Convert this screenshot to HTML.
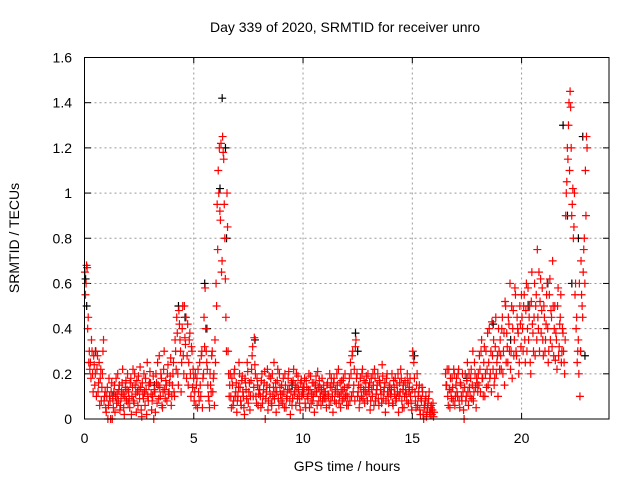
<!DOCTYPE html>
<html><head><meta charset="utf-8"><style>
body{margin:0;background:#fff}
svg{display:block;font-family:"Liberation Sans",sans-serif}
</style></head><body>
<svg id="chart" width="640" height="480">
<text x="345" y="32" text-anchor="middle" font-size="14">Day 339 of 2020, SRMTID for receiver unro</text>
<text x="347" y="471" text-anchor="middle" font-size="14">GPS time / hours</text>
<text transform="translate(19,238) rotate(-90)" text-anchor="middle" font-size="14">SRMTID / TECUs</text>
<g id="grid"></g><g id="ticks"></g><g id="black"></g><g id="red"></g>
<rect x="84.5" y="57.5" width="524.5" height="361.5" fill="none" stroke="#000"/>
</svg>
<script>
const xTicks=[0,5,10,15,20];
const yTicks=[0,0.2,0.4,0.6,0.8,1,1.2,1.4,1.6];
const yTickLabels=["0","0.2","0.4","0.6","0.8","1","1.2","1.4","1.6"];
const hourStarts=[0,1,2,3,4,5,6,7,8,9,10,11,12,13,14,15,16,17,18,19,20,21,22];
const redHourly=[
[.65,.6,.67,.45,.3,.25,.35,.2,.28,.15,.3,.22,.12,.25,.18,.08,.2,.35,.1,.05],
[.1,0,.18,.08,.12,0,.05,.15,.1,.07,.2,.13,.04,.09,.16,.11,.02,.14,.08,.2],
[.12,.05,.18,.1,.22,.07,.15,.03,.12,.19,.09,.14,.01,.11,.2,.06,.13,.25,.08,.16],
[.16,.04,.1,0,.12,.2,.07,.15,.28,.1,.18,.05,.22,.13,.17,.08,.24,.12,.19,.06],
[.15,.25,.1,.3,.45,.2,.48,.35,.12,.4,.28,.5,.33,.18,.42,.25,.38,.1,.3,.22],
[.08,.2,.15,.05,.12,.25,.1,.3,.18,.45,.58,.3,.22,.1,.05,.15,.28,.12,.2,.35],
[.6,.95,1.1,1.2,.88,.65,1.25,1.15,.8,.45,1.0,.3,.1,.2,.05,.15,.08,.22,.12,.03],
[.1,.25,.14,.06,.19,.1,.02,.16,.09,.21,.12,.04,.17,.28,.1,.36,.2,.07,.15,.11],
[.13,.05,.2,.1,.16,0,.12,.22,.08,.14,.18,.06,.1,.25,.12,.03,.17,.09,.2,.11],
[.15,.07,.12,.2,.05,.1,.18,.13,.02,.16,.09,.22,.12,.06,.14,.19,.1,.04,.17,.12],
[.11,.18,.05,.14,.09,.2,.13,.07,.16,.1,.03,.15,.12,.21,.08,.14,.06,.18,.11,.09],
[.12,.05,.16,.1,.2,.08,.14,.03,.18,.12,.07,.15,.22,.1,.05,.17,.13,.09,.2,.11],
[.14,.06,.18,.25,.1,.3,.15,.08,.35,.2,.12,.05,.18,.1,.22,.13,.07,.16,.11,.2],
[.12,.04,.18,.1,.15,.22,.08,.13,.2,.06,.16,.11,.24,.09,.14,.03,.18,.12,.07,.15],
[.1,.2,.06,.14,.18,.09,.12,.03,.16,.22,.08,.13,.05,.17,.11,.2,.07,.14,.1,.04],
[.3,.25,.12,.05,.2,.1,.15,.02,.08,.12,0,.05,.1,.03,.07,.12,.02,.06,.04,.01],
[null,null,null,null,null,null,null,null,null,null,.2,.15,.1,.22,.05,.12,.18,.08,.2,.1],
[.18,.1,.22,.05,.15,.08,.12,0,.2,.1,.25,.06,.14,.18,.09,.3,.12,.2,.05,.16],
[.2,.28,.12,.35,.18,.25,.1,.3,.22,.15,.4,.2,.12,.28,.35,.18,.45,.25,.1,.3],
[.35,.22,.45,.3,.15,.5,.38,.25,.42,.6,.3,.18,.48,.35,.55,.28,.4,.2,.5,.32],
[.45,.3,.55,.25,.6,.4,.35,.5,.2,.65,.38,.45,.28,.55,.75,.4,.3,.62,.48,.35],
[.5,.3,.42,.6,.25,.55,.35,.45,.7,.28,.5,.38,.22,.58,.32,.45,.25,.4,.3,.2],
[.9,1.05,1.15,1.4,1.45,1.2,.95,.8,1.0,.6,.45,.3,.2,.1,.7,.5,.65,.8,1.1,1.25]
];
const redHourly2=[
[.55,.68,.4,.25,.22,.18,.3,.12,.24,.2,.1,.28,.16,.06,.22,.14,.3,.08,.12,.03],
[.14,.06,.1,0,.16,.09,.12,.03,.18,.11,.08,.15,.06,.12,.22,.05,.1,.17,.13,.07],
[.09,.16,.02,.14,.08,.2,.11,.17,.06,.13,.23,.04,.16,.09,.12,.18,.02,.1,.15,.21],
[.11,.08,.19,.13,.03,.16,.25,.09,.14,.2,.06,.12,.3,.09,.15,.2,.11,.16,.27,.1],
[.2,.12,.35,.22,.38,.15,.42,.3,.25,.5,.2,.36,.45,.28,.15,.35,.2,.32,.14,.18],
[.12,.06,.18,.22,.08,.15,.28,.05,.2,.32,.4,.25,.15,.08,.2,.12,.3,.18,.06,.25],
[.5,.75,1.0,.92,1.22,.7,1.18,.95,.62,.3,.85,.2,.15,.1,.18,.06,.2,.1,.16,.08],
[.14,.2,.08,.17,.12,.05,.18,.13,.25,.07,.16,.1,.22,.32,.14,.24,.1,.18,.06,.13],
[.1,.17,.07,.13,.21,.09,.15,.04,.19,.11,.07,.2,.14,.09,.16,.12,.22,.06,.14,.08],
[.11,.18,.05,.15,.09,.13,.21,.08,.12,.06,.17,.11,.15,.2,.09,.13,.07,.16,.1,.14],
[.14,.07,.17,.1,.13,.05,.19,.11,.08,.16,.12,.19,.06,.14,.17,.1,.13,.08,.15,.12],
[.09,.15,.11,.06,.14,.18,.1,.16,.08,.13,.2,.11,.07,.16,.12,.08,.18,.14,.1,.06],
[.1,.15,.08,.2,.28,.12,.22,.32,.18,.1,.15,.08,.14,.2,.09,.17,.12,.19,.08,.14],
[.16,.08,.13,.2,.06,.18,.11,.15,.09,.17,.13,.07,.19,.12,.16,.08,.2,.1,.14,.11],
[.13,.07,.17,.11,.08,.15,.2,.1,.12,.18,.05,.15,.1,.13,.08,.16,.12,.18,.07,.13],
[.28,.18,.08,.15,.06,.12,.04,.09,.14,.02,.06,.08,.01,.05,.09,.03,.05,.02,.07,.03],
[null,null,null,null,null,null,null,null,null,null,.15,.22,.06,.13,.18,.09,.14,.22,.06,.15],
[.12,.2,.08,.16,.1,.2,.04,.14,.08,.17,.12,.2,.1,.22,.15,.08,.25,.14,.18,.12],
[.15,.22,.3,.18,.1,.32,.2,.14,.38,.25,.18,.3,.43,.22,.15,.32,.2,.28,.4,.22],
[.28,.4,.2,.38,.52,.25,.32,.45,.3,.22,.5,.4,.28,.58,.3,.45,.38,.25,.42,.55],
[.4,.5,.35,.48,.3,.58,.45,.25,.52,.42,.3,.6,.5,.35,.45,.65,.52,.38,.58,.28],
[.45,.35,.55,.4,.3,.62,.48,.32,.5,.4,.26,.35,.5,.28,.42,.55,.3,.38,.25,.35],
[1.0,1.2,1.3,1.1,1.38,.9,1.02,.85,.55,.4,.25,.35,.6,.3,.55,.45,.75,.6,.9,1.2]
];
const blackTimes=[0.05,0.1,0.5,1.3,3.2,4.3,4.6,5.5,5.6,6.2,6.3,6.45,6.5,7.8,9.5,12.4,12.5,15.1,17.5,18.7,19.5,20.3,21.2,21.9,22.1,22.3,22.6,22.7,22.8,22.9];
const blackValues=[0.62,0.5,0.3,0.1,0.15,0.5,0.45,0.6,0.4,1.02,1.42,1.2,0.8,0.35,0.15,0.38,0.3,0.28,0.18,0.42,0.35,0.5,0.6,1.3,0.9,0.6,0.8,0.3,1.25,0.28];
const X=t=>84.5+t*524.5/24, Y=v=>419-v*361.5/1.6;
const NS="http://www.w3.org/2000/svg";
function mk(tag,attrs,parent){const e=document.createElementNS(NS,tag);for(const k in attrs)e.setAttribute(k,attrs[k]);document.getElementById(parent).appendChild(e);return e;}
yTicks.forEach((v,i)=>{
  if(i>0&&i<yTicks.length-1){const g=mk('line',{x1:84.5,x2:609,y1:Y(v),y2:Y(v),stroke:'#999','stroke-dasharray':'2,3'},'grid');
  
  }
  const t=mk('line',{x1:84.5,x2:91,y1:Y(v),y2:Y(v),stroke:'#000'},'ticks');
  
  
  const t2=mk('line',{x1:603,x2:609,y1:Y(v),y2:Y(v),stroke:'#000'},'ticks');
  
  
  const l=mk('text',{x:72,y:Y(v)+5,'text-anchor':'end','font-size':14},'ticks');l.textContent=yTickLabels[i];
  
  
});
xTicks.forEach(v=>{
  if(v>0){const g=mk('line',{x1:X(v),x2:X(v),y1:57.5,y2:419,stroke:'#999','stroke-dasharray':'2,3'},'grid');
  
  }
  const t=mk('line',{x1:X(v),x2:X(v),y1:413,y2:419,stroke:'#000'},'ticks');
  
  
  const t2=mk('line',{x1:X(v),x2:X(v),y1:57.5,y2:63,stroke:'#000'},'ticks');
  
  
  const l=mk('text',{x:X(v),y:443,'text-anchor':'middle','font-size':14},'ticks');l.textContent=String(v);
  
  
});
function plus(t,v,color,parent,name){
  const x=X(t),y=Y(v);
  const p=mk('path',{d:`M${x-4},${y}H${x+4}M${x},${y-4}V${y+4}`,stroke:color,'stroke-width':1.2,fill:'none'},parent);
  
  
}
blackTimes.forEach((t,i)=>plus(t,blackValues[i],'#000','black','black-point'));
hourStarts.forEach((h,hi)=>{
  redHourly[hi].forEach((v,i)=>{ if(v!==null) plus(h+i*0.05+0.02,v,'#f00','red','red-point'); });
  redHourly2[hi].forEach((v,i)=>{ if(v!==null) plus(h+i*0.05+0.045,v,'#f00','red','red-point'); });
});
</script>
</body></html>
